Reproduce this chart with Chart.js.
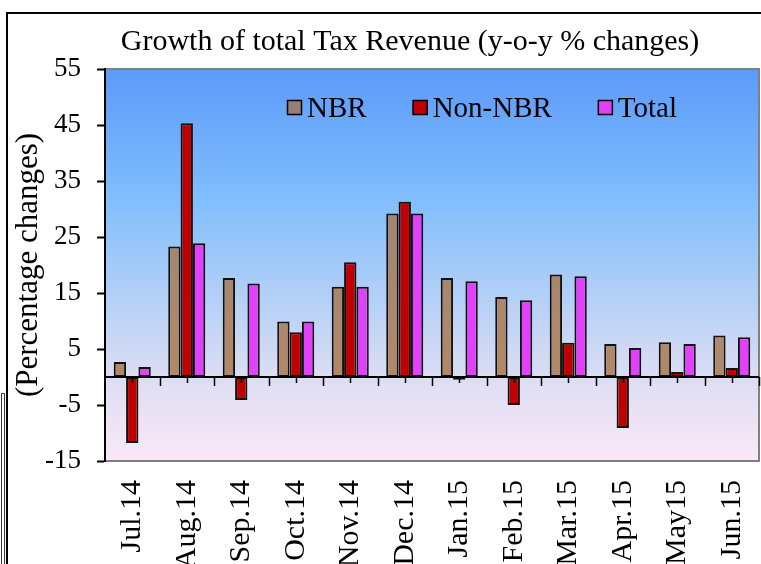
<!DOCTYPE html>
<html>
<head>
<meta charset="utf-8">
<script src="https://cdn.jsdelivr.net/npm/chart.js@4.4.1/dist/chart.umd.min.js"></script>
<style>
  html, body { margin: 0; padding: 0; background: #fff; }
  #wrap { width: 761px; height: 564px; position: relative; }
</style>
</head>
<body>
<div id="wrap"><canvas id="myChart" width="761" height="564"></canvas></div>
<script>
const months = ['Jul.14', 'Aug.14', 'Sep.14', 'Oct.14', 'Nov.14', 'Dec.14',
    'Jan.15', 'Feb.15', 'Mar.15', 'Apr.15', 'May15', 'Jun.15'];
const nbr = [2.7, 23.3, 17.7, 9.9, 16.1, 29.2, 17.7, 14.3, 18.3, 5.9, 6.2, 7.4];
const nonNbr = [-11.8, 45.3, -4.1, 8.0, 20.5, 31.3, -0.5, -5.0, 6.1, -9.1, 0.9, 1.6];
const total = [1.8, 23.9, 16.7, 9.9, 16.1, 29.2, 17.1, 13.7, 18.0, 5.2, 5.9, 7.1];
const yTicks = [55, 45, 35, 25, 15, 5, -5, -15];

const chartTitle = 'Growth of total Tax Revenue (y-o-y % changes)';
const serif = '"Liberation Serif", "Times New Roman", serif';

var nbrFill = function (context) {
    var area = context.chart.chartArea;
    if (!area) return 'rgb(165,134,112)';
    var g = context.chart.ctx.createLinearGradient(0, area.top, 0, area.bottom);
    g.addColorStop(0, 'rgb(148,130,122)');
    g.addColorStop(0.8, 'rgb(178,137,104)');
    g.addColorStop(1, 'rgb(182,138,102)');
    return g;
}

// plot background, frame, zero line with its ticks, title and legend
const decor = {
    id: 'decor',
    beforeDraw(chart) {
        const c = chart.ctx, a = chart.chartArea;
        c.save();
        var g = c.createLinearGradient(0, a.top, 0, a.bottom);
        g.addColorStop(0, 'rgb(92,154,250)');
        g.addColorStop(0.33, 'rgb(128,190,252)');
        g.addColorStop(0.79, 'rgb(221,222,243)');
        g.addColorStop(1, 'rgb(250,232,246)');
        c.fillStyle = g;
        c.fillRect(a.left, a.top, a.right - a.left, a.bottom - a.top);
        c.strokeStyle = '#808080';
        c.lineWidth = 2;
        c.beginPath();
        c.moveTo(a.left, a.top); c.lineTo(a.right, a.top);
        c.lineTo(a.right, a.bottom); c.lineTo(a.left, a.bottom);
        c.stroke();
        // outer frame
        c.strokeStyle = '#000';
        c.lineWidth = 2;
        c.beginPath();
        c.moveTo(7, 564); c.lineTo(7, 13); c.lineTo(761, 13);
        c.stroke();
        c.lineWidth = 1;
        c.strokeStyle = '#333';
        c.beginPath();
        c.moveTo(1.5, 564); c.lineTo(1.5, 393.5); c.lineTo(4.5, 393.5); c.lineTo(4.5, 564);
        c.stroke();
        // title
        c.fillStyle = '#000';
        c.font = '30px ' + serif;
        c.textAlign = 'center';
        c.textBaseline = 'middle';
        c.fillText(chartTitle, 410, 42);
        c.restore();
    },
    afterDatasetsDraw(chart) {
        const c = chart.ctx, a = chart.chartArea;
        const x = chart.scales.x, y = chart.scales.y;
        const y0 = Math.round(y.getPixelForValue(0));
        c.save();
        c.strokeStyle = '#000';
        c.lineWidth = 2;
        c.beginPath();
        c.moveTo(a.left, y0); c.lineTo(a.right, y0);
        c.stroke();
        c.lineWidth = 1.5;
        c.beginPath();
        for (let i = 0; i < months.length; i++) {
            const px = x.getPixelForValue(i);
            const half = (x.getPixelForValue(1) - x.getPixelForValue(0)) / 2;
            c.moveTo(Math.round(px) + 0.5, y0); c.lineTo(Math.round(px) + 0.5, y0 + 6);
            c.moveTo(Math.round(px + half) + 0.5, y0); c.lineTo(Math.round(px + half) + 0.5, y0 + 9);
        }
        c.stroke();
        // legend inside the plot
        c.font = '29px ' + serif;
        c.textBaseline = 'middle';
        c.textAlign = 'left';
        let lx = 287;
        const ly = 108;
        chart.data.datasets.forEach(function (ds, i) {
            c.fillStyle = i == 0 ? 'rgb(150,125,118)' : ds.backgroundColor;
            c.fillRect(lx, ly - 8, 15, 15);
            c.strokeStyle = '#000';
            c.lineWidth = 1.5;
            c.strokeRect(lx + 0.5, ly - 7.5, 14, 14);
            c.fillStyle = '#000';
            c.fillText(ds.label, lx + 20, ly + 1);
            lx += 20 + c.measureText(ds.label).width + 46;
        });
        c.restore();
    }
};

const ctx = document.getElementById('myChart');
const myChart = new Chart(ctx, {
    type: 'bar',
    data: {
        labels: months,
        datasets: [
            { label: 'NBR', data: nbr, backgroundColor: nbrFill },
            { label: 'Non-NBR', data: nonNbr, backgroundColor: 'rgb(192,0,0)' },
            { label: 'Total', data: total, backgroundColor: 'rgb(226,64,250)' }
        ]
    },
    options: {
        responsive: false,
        animation: false,
        devicePixelRatio: 1,
        layout: { padding: { left: 8, top: 69, right: 2, bottom: 0 } },
        datasets: {
            bar: {
                borderColor: '#111',
                borderWidth: 2,
                borderSkipped: false,
                categoryPercentage: 0.68,
                barPercentage: 1.0
            }
        },
        plugins: {
            legend: { display: false },
            title: { display: false },
            tooltip: { enabled: false }
        },
        scales: {
            x: {
                grid: { display: false, drawTicks: false },
                border: { display: false },
                ticks: {
                    color: '#000',
                    font: { family: serif, size: 30 },
                    minRotation: 90,
                    maxRotation: 90,
                    autoSkip: false,
                    padding: 19
                },
                afterFit: function (scale) {
                    scale.height = 103;
                    scale.paddingLeft = 0;
                    scale.paddingRight = 0;
                }
            },
            y: {
                min: -15,
                max: 55,
                afterBuildTicks: function (scale) {
                    scale.ticks = yTicks.map(function (v) { return { value: v }; });
                },
                grid: { drawOnChartArea: false, drawTicks: true, tickLength: 8, tickColor: '#000', tickWidth: 2 },
                border: { display: true, color: '#000', width: 2 },
                ticks: {
                    color: '#000',
                    font: { family: serif, size: 27 },
                    padding: 16
                },
                title: {
                    display: true,
                    text: '(Percentage changes)',
                    color: '#000',
                    font: { family: serif, size: 31 },
                    padding: { top: 2, bottom: 0 }
                },
                afterFit: function (scale) {
                    scale.width = 97;
                    scale.paddingTop = 0;
                    scale.paddingBottom = 0;
                }
            }
        }
    },
    plugins: [decor]
});
</script>
</body>
</html>
